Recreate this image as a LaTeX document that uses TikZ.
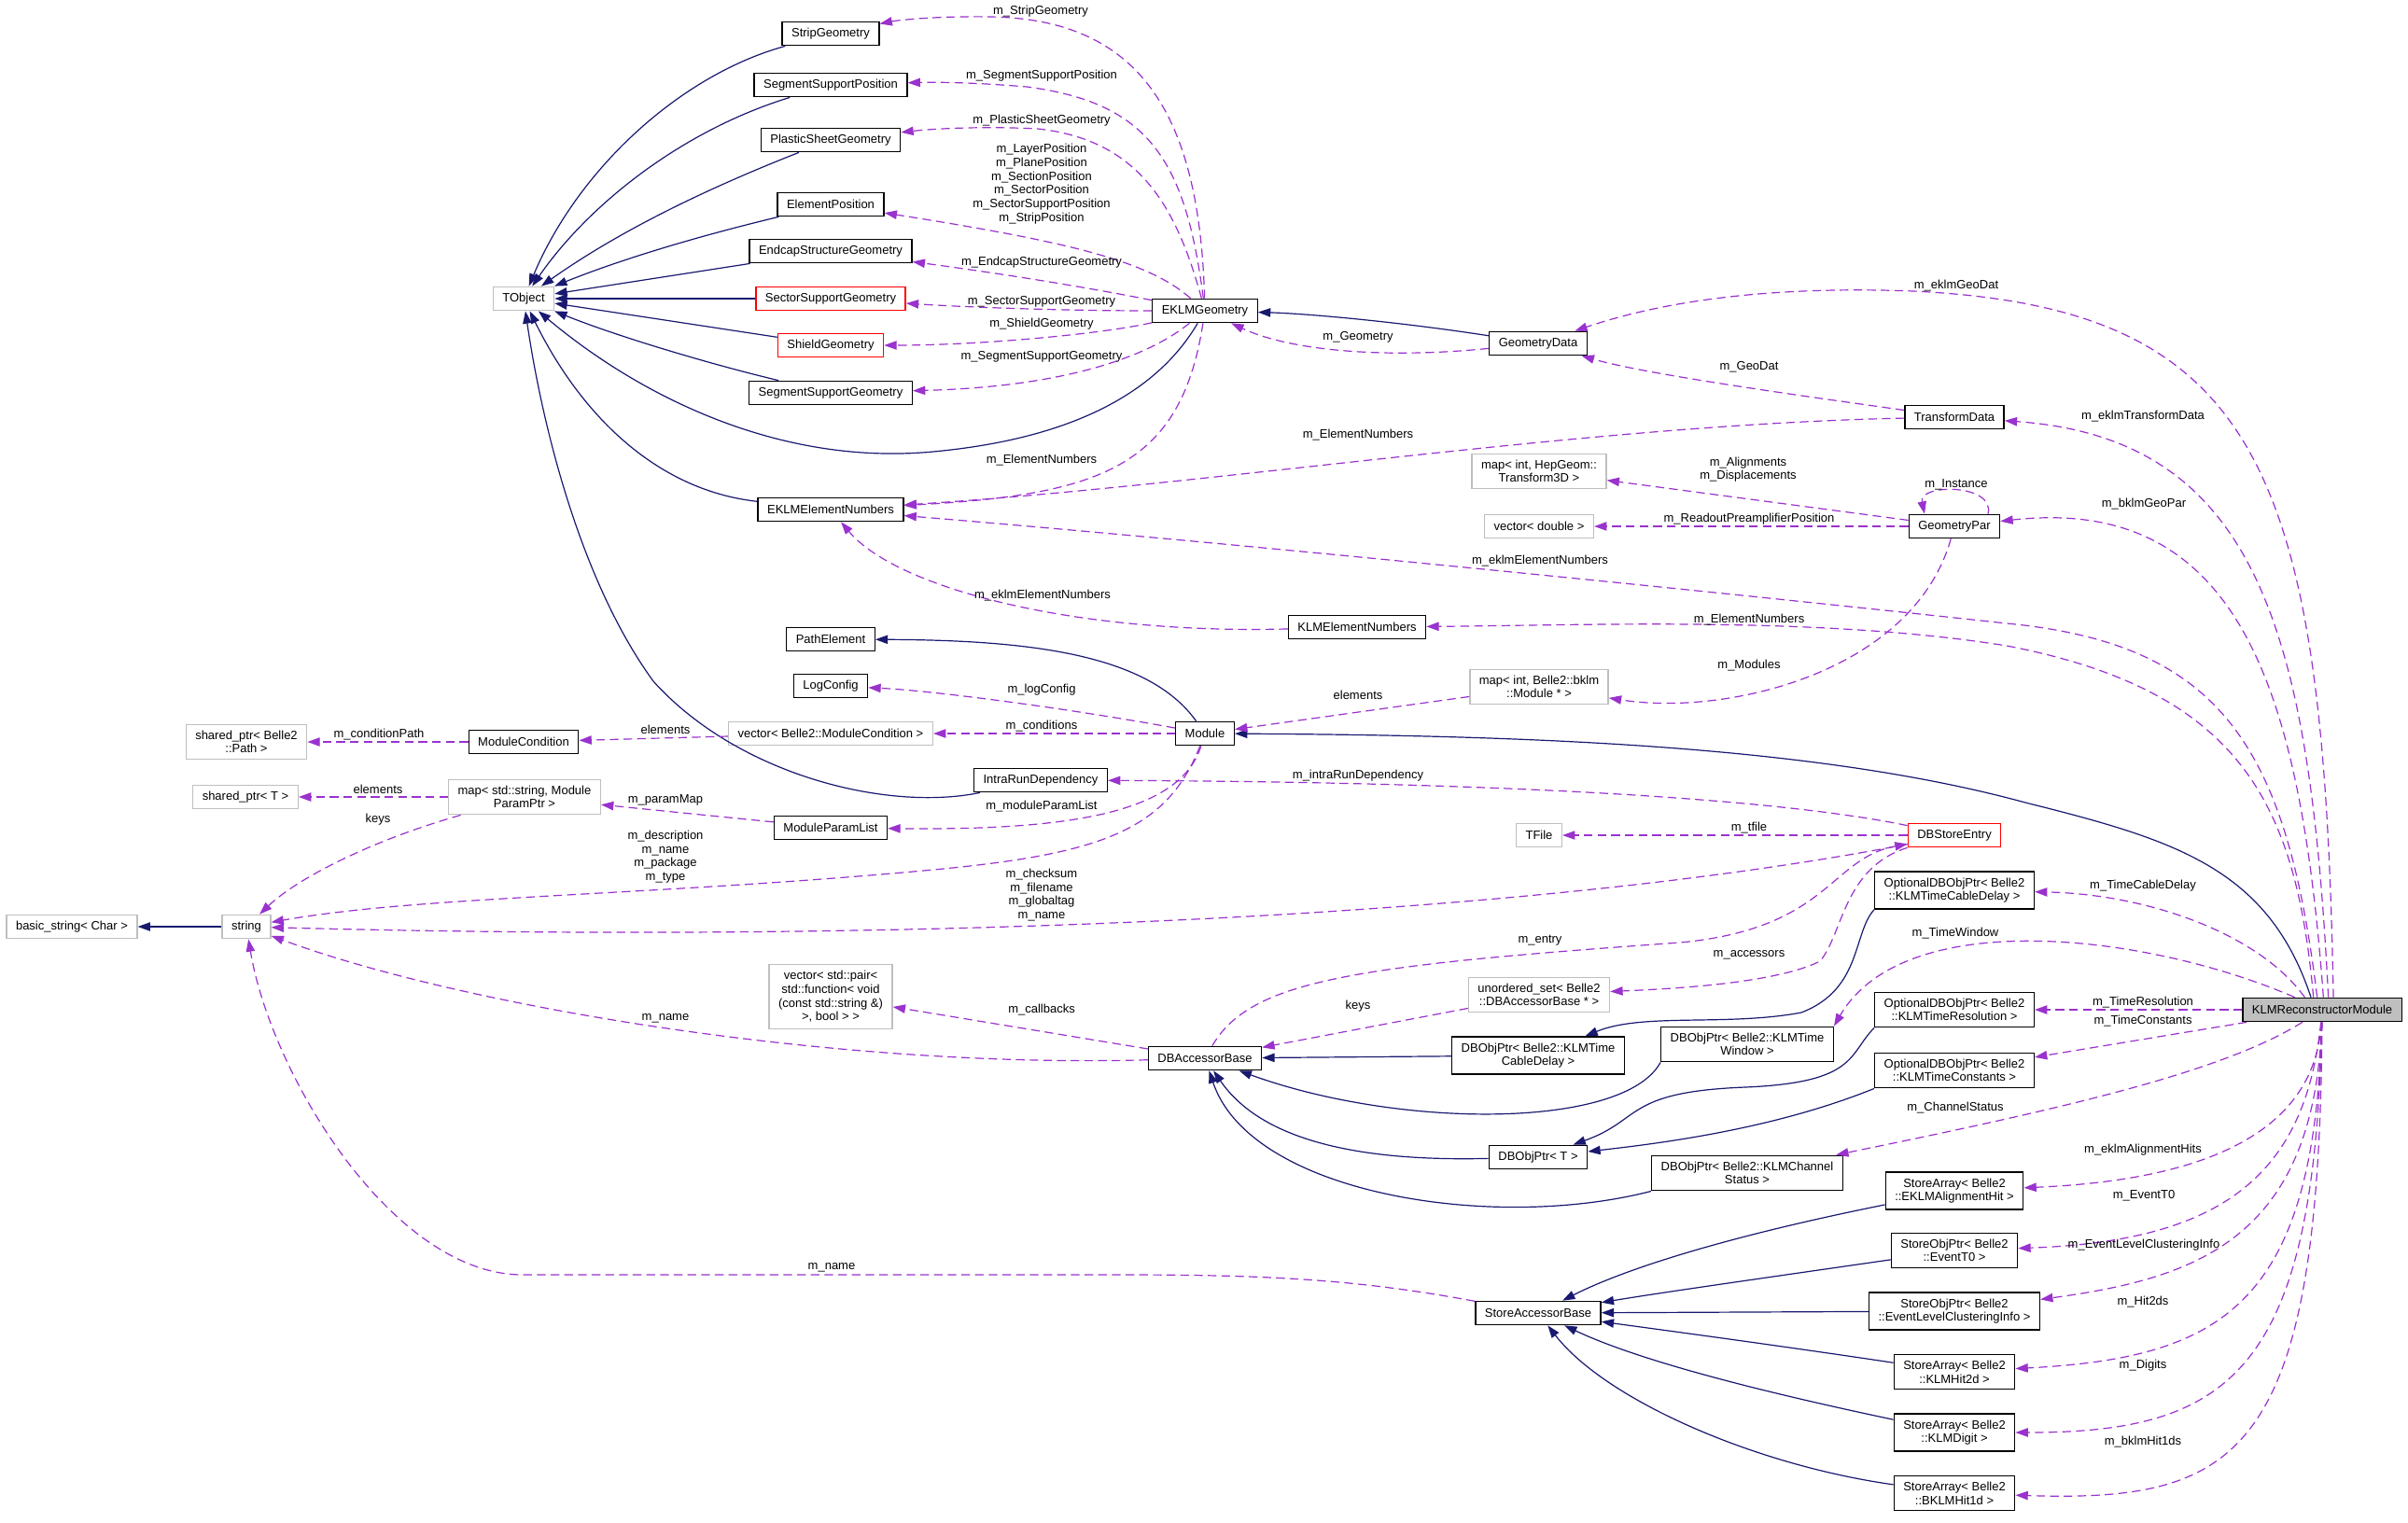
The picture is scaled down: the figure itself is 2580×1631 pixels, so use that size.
\documentclass[tikz,border=0pt]{standalone}
\usepackage{fontspec}
\setmainfont{Liberation Sans}
\usetikzlibrary{arrows.meta}
\definecolor{edgeblue}{HTML}{191970}
\definecolor{edgepurple}{HTML}{9A32CD}
\definecolor{boxgray}{HTML}{BFBFBF}
\newcommand{\dgfont}{\fontsize{9.75pt}{11pt}\selectfont}

\begin{document}
\begin{tikzpicture}[x=0.75pt, y=-0.75pt, >={Triangle[length=10pt,width=7pt]},
  classbox/.style={draw=black,line width=1pt,inner xsep=7.5pt,inner ysep=5pt,minimum height=19pt,align=center,font=\dgfont},
  extbox/.style={classbox,draw=boxgray},
  redbox/.style={classbox,draw=red},
  mainbox/.style={classbox,fill=boxgray},
  memlbl/.style={inner sep=0pt,align=center,font=\dgfont},
  inhedge/.style={->,draw=edgeblue,line width=0.9pt},
  useedge/.style={->,draw=edgepurple,line width=0.9pt,dash pattern=on 7pt off 4pt}]
            \path[use as bounding box,fill=white] (0,0) rectangle (2580,1631);

            \node[classbox] (strip) at (890,36) {StripGeometry};
            \node[classbox] (ssp) at (890,91) {SegmentSupportPosition};
            \node[classbox] (psg) at (890,150) {PlasticSheetGeometry};
            \node[classbox] (elp) at (890,219) {ElementPosition};
            \node[classbox] (esg) at (890,269) {EndcapStructureGeometry};
            \node[redbox] (secsg) at (890,320) {SectorSupportGeometry};
            \node[redbox] (shg) at (890,370) {ShieldGeometry};
            \node[classbox] (segsg) at (890,421) {SegmentSupportGeometry};
            \node[extbox] (tobj) at (561,320) {TObject};
            \node[classbox] (eklmgeo) at (1291,333) {EKLMGeometry};
            \node[classbox] (geodata) at (1648,368) {GeometryData};
            \node[classbox] (trdata) at (2094,447) {TransformData};
            \node[classbox] (eklmen) at (890,546) {EKLMElementNumbers};
            \node[extbox] (maphep) at (1649,505) {map< int, HepGeom::\\Transform3D >};
            \node[extbox] (vecdbl) at (1649,564) {vector< double >};
            \node[classbox] (geopar) at (2094,564) {GeometryPar};
            \node[classbox] (klmen) at (1454,672) {KLMElementNumbers};
            \node[classbox] (pathel) at (890,685) {PathElement};
            \node[classbox] (logcfg) at (890,735) {LogConfig};
            \node[extbox] (vecmc) at (890,786) {vector< Belle2::ModuleCondition >};
            \node[classbox] (module) at (1291,786) {Module};
            \node[extbox] (mapbklm) at (1649,736) {map< int, Belle2::bklm\\::Module * >};
            \node[classbox] (modcond) at (561,795) {ModuleCondition};
            \node[extbox] (sppath) at (264,795) {shared\_ptr< Belle2\\::Path >};
            \node[extbox] (spt) at (263,854) {shared\_ptr< T >};
            \node[extbox] (mapmp) at (562,854) {map< std::string, Module\\ParamPtr >};
            \node[classbox] (ird) at (1115,836) {IntraRunDependency};
            \node[classbox] (modpl) at (890,887) {ModuleParamList};
            \node[extbox] (tfile) at (1649,895) {TFile};
            \node[redbox] (dbse) at (2094,895) {DBStoreEntry};
            \node[extbox] (bstr) at (77,993) {basic\_string< Char >};
            \node[extbox] (str) at (264,993) {string};
            \node[classbox] (optcd) at (2094,954) {OptionalDBObjPtr< Belle2\\::KLMTimeCableDelay >};
            \node[extbox] (vecpair) at (890,1068) {vector< std::pair<\\std::function< void\\(const std::string \&)\\>, bool > >};
            \node[extbox] (uset) at (1649,1066) {unordered\_set< Belle2\\::DBAccessorBase * >};
            \node[classbox] (dbab) at (1291,1134) {DBAccessorBase};
            \node[classbox] (dbcd) at (1648,1131) {DBObjPtr< Belle2::KLMTime\\CableDelay >};
            \node[classbox] (dbtw) at (1872,1119) {DBObjPtr< Belle2::KLMTime\\Window >};
            \node[classbox] (optres) at (2094,1082) {OptionalDBObjPtr< Belle2\\::KLMTimeResolution >};
            \node[classbox] (optcon) at (2094,1147) {OptionalDBObjPtr< Belle2\\::KLMTimeConstants >};
            \node[mainbox] (klmrec) at (2488,1082) {KLMReconstructorModule};
            \node[classbox] (dbt) at (1648,1240) {DBObjPtr< T >};
            \node[classbox] (dbcs) at (1872,1257) {DBObjPtr< Belle2::KLMChannel\\Status >};
            \node[classbox] (saeah) at (2094,1276) {StoreArray< Belle2\\::EKLMAlignmentHit >};
            \node[classbox] (sopt0) at (2094,1340) {StoreObjPtr< Belle2\\::EventT0 >};
            \node[classbox] (sab) at (1648,1407) {StoreAccessorBase};
            \node[classbox] (sopelc) at (2094,1405) {StoreObjPtr< Belle2\\::EventLevelClusteringInfo >};
            \node[classbox] (sahit2d) at (2094,1470) {StoreArray< Belle2\\::KLMHit2d >};
            \node[classbox] (sadigit) at (2094,1535) {StoreArray< Belle2\\::KLMDigit >};
            \node[classbox] (sahit1d) at (2094,1600) {StoreArray< Belle2\\::BKLMHit1d >};

            \draw[inhedge] (strip) .. controls (730,80) and (620,180) .. (tobj);
            \draw[inhedge] (ssp) .. controls (730,140) and (630,220) .. (tobj);
            \draw[inhedge] (psg) .. controls (750,205) and (660,250) .. (tobj);
            \draw[inhedge] (elp) .. controls (740,255) and (660,280) .. (tobj);
            \draw[inhedge] (esg) -- (tobj);
            \draw[inhedge] (secsg) -- (tobj);
            \draw[inhedge] (shg) -- (tobj);
            \draw[inhedge] (segsg) .. controls (760,390) and (660,360) .. (tobj);
            \draw[inhedge] (eklmgeo) .. controls (1240,420) and (1150,470) .. (1000,484) .. controls (830,500) and (680,420) .. (tobj);
            \draw[inhedge] (eklmen) .. controls (700,525) and (620,440) .. (tobj);
            \draw[inhedge] (ird) .. controls (950,870) and (790,830) .. (700,730) .. controls (620,620) and (580,450) .. (tobj);
            \draw[inhedge] (geodata) .. controls (1500,345) and (1400,336) .. (eklmgeo);
            \draw[inhedge] (module) .. controls (1230,700) and (1100,686) .. (pathel);
            \draw[inhedge] ([xshift=-9pt]klmrec.north) .. controls (2430,930) and (2330,900) .. (2170,860) .. controls (1950,800) and (1650,788) .. (module);
            \draw[inhedge] (str) -- (bstr);
            \draw[inhedge] (dbcd) -- (dbab);
            \draw[inhedge] (dbtw.south west) .. controls (1740,1210) and (1500,1210) .. (dbab);
            \draw[inhedge] (dbt) .. controls (1450,1245) and (1350,1220) .. (dbab);
            \draw[inhedge] (dbcs.south west) .. controls (1600,1320) and (1340,1280) .. (dbab);
            \draw[inhedge] (optcd.south west) .. controls (1985,1000) and (1995,1060) .. (1930,1085) .. controls (1850,1100) and (1760,1085) .. (dbcd);
            \draw[inhedge] (optres.south west) .. controls (1980,1130) and (1990,1160) .. (1870,1165) .. controls (1740,1170) and (1760,1200) .. (dbt);
            \draw[inhedge] (optcon.south west) .. controls (1900,1210) and (1780,1225) .. (dbt);
            \draw[inhedge] (saeah) .. controls (1850,1325) and (1740,1360) .. (sab);
            \draw[inhedge] (sopt0) .. controls (1900,1368) and (1780,1385) .. (sab);
            \draw[inhedge] (sopelc) -- (sab);
            \draw[inhedge] (sahit2d) .. controls (1900,1441) and (1780,1425) .. (sab);
            \draw[inhedge] (sadigit) .. controls (1900,1494) and (1760,1460) .. (sab);
            \draw[inhedge] (sahit1d) .. controls (1880,1570) and (1720,1500) .. (sab);

            \draw[useedge] (eklmgeo) .. controls (1285,120) and (1220,20) .. (1060,18) .. controls (1000,17) and (960,22) .. (strip);
            \draw[useedge] (eklmgeo) .. controls (1270,170) and (1230,110) .. (1100,93) .. controls (1040,88) and (1000,88) .. (ssp);
            \draw[useedge] (eklmgeo) .. controls (1260,220) and (1220,150) .. (1112,138) .. controls (1050,135) and (1000,138) .. (psg);
            \draw[useedge] (eklmgeo) .. controls (1230,280) and (1150,260) .. (elp);
            \draw[useedge] (eklmgeo) .. controls (1150,305) and (1050,290) .. (esg);
            \draw[useedge] (eklmgeo) .. controls (1150,333) and (1050,330) .. (secsg);
            \draw[useedge] (eklmgeo) .. controls (1180,358) and (1050,370) .. (shg);
            \draw[useedge] (eklmgeo) .. controls (1220,390) and (1120,415) .. (segsg);
            \draw[useedge] (eklmgeo) .. controls (1265,500) and (1180,530) .. (eklmen);
            \draw[useedge] (geodata) .. controls (1480,385) and (1380,375) .. (eklmgeo);
            \draw[useedge] (trdata) .. controls (1900,420) and (1760,400) .. (geodata);
            \draw[useedge] (trdata) .. controls (1700,455) and (1300,520) .. (eklmen);
            \draw[useedge] (geopar) -- (maphep);
            \draw[useedge] (geopar) -- (vecdbl);
            \draw[useedge] ([xshift=27pt]geopar.north) .. controls (2138,518) and (2055,518) .. ([xshift=-24pt]geopar.north);
            \draw[useedge] (geopar) .. controls (2050,720) and (1850,768) .. (mapbklm);
            \draw[useedge] (klmen) .. controls (1150,680) and (960,630) .. (eklmen);
            \draw[useedge] (mapbklm) -- (module);
            \draw[useedge] (module) .. controls (1150,760) and (1000,740) .. (logcfg);
            \draw[useedge] (module) -- (vecmc);
            \draw[useedge] (module) .. controls (1265,870) and (1150,890) .. (modpl);
            \draw[useedge] (module) .. controls (1250,890) and (1180,915) .. (1000,932) .. controls (700,960) and (450,960) .. (str);
            \draw[useedge] (vecmc) -- (modcond);
            \draw[useedge] (modcond) -- (sppath);
            \draw[useedge] (mapmp) -- (spt);
            \draw[useedge] (mapmp) .. controls (400,900) and (320,940) .. (str);
            \draw[useedge] (modpl) -- (mapmp);
            \draw[useedge] (dbse) .. controls (1900,855) and (1600,838) .. (ird);
            \draw[useedge] (dbse) -- (tfile);
            \draw[useedge] (dbse) .. controls (1600,990) and (900,1010) .. (str);
            \draw[useedge] (dbse.south west) .. controls (1975,930) and (1975,1000) .. (1950,1030) .. controls (1900,1055) and (1780,1060) .. (uset);
            \draw[useedge] (dbab) .. controls (1340,1050) and (1450,1035) .. (1800,1010) .. controls (1960,995) and (1960,920) .. (dbse);
            \draw[useedge] (uset) -- (dbab);
            \draw[useedge] (dbab) -- (vecpair);
            \draw[useedge] (dbab) .. controls (900,1145) and (500,1080) .. (str);
            \draw[useedge] (sab) .. controls (1450,1370) and (1350,1366) .. (1200,1366) -- (560,1366) .. controls (420,1366) and (290,1150) .. (str);
            \draw[useedge] ([xshift=9pt]klmrec.north) .. controls (2490,500) and (2420,330) .. (2050,312) .. controls (1870,305) and (1760,330) .. (geodata);
            \draw[useedge] ([xshift=5pt]klmrec.north) .. controls (2475,680) and (2420,470) .. (trdata);
            \draw[useedge] ([xshift=1pt]klmrec.north) .. controls (2465,740) and (2400,530) .. (geopar);
            \draw[useedge] ([xshift=-4pt]klmrec.north) .. controls (2450,800) and (2380,690) .. (2150,668) .. controls (1800,630) and (1300,580) .. (eklmen);
            \draw[useedge] ([xshift=-7pt]klmrec.north) .. controls (2460,860) and (2400,740) .. (2150,692) .. controls (1950,660) and (1700,670) .. (klmen);
            \draw[useedge] ([xshift=-14pt]klmrec.north) .. controls (2420,1000) and (2300,958) .. (optcd);
            \draw[useedge] ([xshift=-22pt]klmrec.north) .. controls (2300,1000) and (2040,970) .. (dbtw.north east);
            \draw[useedge] (klmrec) -- (optres);
            \draw[useedge] (klmrec) -- (optcon);
            \draw[useedge] (klmrec) .. controls (2380,1150) and (2200,1190) .. (dbcs);
            \draw[useedge] (klmrec) .. controls (2480,1220) and (2350,1265) .. (saeah);
            \draw[useedge] (klmrec) .. controls (2470,1260) and (2380,1330) .. (sopt0);
            \draw[useedge] (klmrec) .. controls (2480,1330) and (2350,1370) .. (sopelc);
            \draw[useedge] (klmrec) .. controls (2480,1400) and (2380,1455) .. (sahit2d);
            \draw[useedge] (klmrec) .. controls (2480,1470) and (2390,1535) .. (sadigit);
            \draw[useedge] (klmrec) .. controls (2485,1560) and (2400,1610) .. (sahit1d);

            \node[memlbl] (lstrip) at (1115,12) {m\_StripGeometry};
            \node[memlbl] (lssp) at (1116,81) {m\_SegmentSupportPosition};
            \node[memlbl] (lpsg) at (1116,129) {m\_PlasticSheetGeometry};
            \node[memlbl] (lelp) at (1116,197) {m\_LayerPosition\\m\_PlanePosition\\m\_SectionPosition\\m\_SectorPosition\\m\_SectorSupportPosition\\m\_StripPosition};
            \node[memlbl] (lesg) at (1116,281) {m\_EndcapStructureGeometry};
            \node[memlbl] (lsecsg) at (1116,323) {m\_SectorSupportGeometry};
            \node[memlbl] (lshg) at (1116,347) {m\_ShieldGeometry};
            \node[memlbl] (lsegsg) at (1116,382) {m\_SegmentSupportGeometry};
            \node[memlbl] (lelnum) at (1116,493) {m\_ElementNumbers};
            \node[memlbl] (lgeo) at (1455,361) {m\_Geometry};
            \node[memlbl] (ltrelnum) at (1455,466) {m\_ElementNumbers};
            \node[memlbl] (lgeodat) at (1874,393) {m\_GeoDat};
            \node[memlbl] (leklmgeodat) at (2096,306) {m\_eklmGeoDat};
            \node[memlbl] (ltrdata) at (2296,446) {m\_eklmTransformData};
            \node[memlbl] (lalign) at (1873,503) {m\_Alignments\\m\_Displacements};
            \node[memlbl] (linst) at (2096,519) {m\_Instance};
            \node[memlbl] (lgeopar) at (2297,540) {m\_bklmGeoPar};
            \node[memlbl] (lreadout) at (1874,556) {m\_ReadoutPreamplifierPosition};
            \node[memlbl] (leklmen) at (1650,601) {m\_eklmElementNumbers};
            \node[memlbl] (lklmeklm) at (1117,638) {m\_eklmElementNumbers};
            \node[memlbl] (lklmen) at (1874,664) {m\_ElementNumbers};
            \node[memlbl] (lmodules) at (1874,713) {m\_Modules};
            \node[memlbl] (lelmod) at (1455,745) {elements};
            \node[memlbl] (llog) at (1116,739) {m\_logConfig};
            \node[memlbl] (lcond) at (1116,778) {m\_conditions};
            \node[memlbl] (lelcond) at (713,782) {elements};
            \node[memlbl] (lcpath) at (406,787) {m\_conditionPath};
            \node[memlbl] (lintra) at (1455,831) {m\_intraRunDependency};
            \node[memlbl] (lelspt) at (405,846) {elements};
            \node[memlbl] (lpmap) at (713,857) {m\_paramMap};
            \node[memlbl] (lmpl) at (1116,864) {m\_moduleParamList};
            \node[memlbl] (lkeysmap) at (405,878) {keys};
            \node[memlbl] (ltfile) at (1874,887) {m\_tfile};
            \node[memlbl] (ldescr) at (713,918) {m\_description\\m\_name\\m\_package\\m\_type};
            \node[memlbl] (lcheck) at (1116,959) {m\_checksum\\m\_filename\\m\_globaltag\\m\_name};
            \node[memlbl] (lcable) at (2296,949) {m\_TimeCableDelay};
            \node[memlbl] (lwindow) at (2095,1000) {m\_TimeWindow};
            \node[memlbl] (lentry) at (1650,1008) {m\_entry};
            \node[memlbl] (laccess) at (1874,1023) {m\_accessors};
            \node[memlbl] (lres) at (2296,1074) {m\_TimeResolution};
            \node[memlbl] (lkeysset) at (1455,1078) {keys};
            \node[memlbl] (lcallb) at (1116,1082) {m\_callbacks};
            \node[memlbl] (lnamedb) at (713,1091) {m\_name};
            \node[memlbl] (lconst) at (2296,1094) {m\_TimeConstants};
            \node[memlbl] (lchan) at (2095,1187) {m\_ChannelStatus};
            \node[memlbl] (lalhits) at (2296,1232) {m\_eklmAlignmentHits};
            \node[memlbl] (lt0) at (2297,1281) {m\_EventT0};
            \node[memlbl] (lelci) at (2297,1334) {m\_EventLevelClusteringInfo};
            \node[memlbl] (lnamest) at (891,1358) {m\_name};
            \node[memlbl] (lhit2d) at (2296,1395) {m\_Hit2ds};
            \node[memlbl] (ldigits) at (2296,1463) {m\_Digits};
            \node[memlbl] (lhit1d) at (2296,1545) {m\_bklmHit1ds};
          \end{tikzpicture}
\end{document}
